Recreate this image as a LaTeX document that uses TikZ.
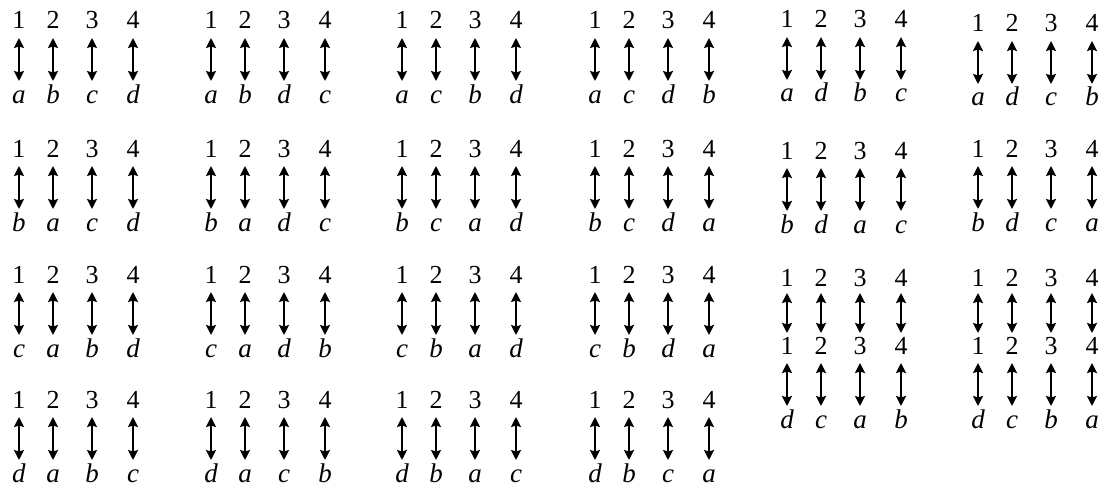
\documentclass[tikz,border=0pt]{standalone}
\usepackage{fontspec}
\setmainfont{Liberation Serif}
\newfontfamily\tms{Liberation Serif}
\usetikzlibrary{arrows.meta}
\tikzset{
  num/.style={inner sep=0pt, anchor=base, font=\tms\fontsize{26pt}{28pt}\selectfont},
  let/.style={inner sep=0pt, anchor=base, font=\tms\itshape\fontsize{27pt}{29pt}\selectfont},
  dbl/.style={line width=2.7pt, {Stealth[length=10pt,width=10pt,inset=1.5pt]}-{Stealth[length=10pt,width=10pt,inset=1.5pt]}}
}
\begin{document}
\begin{tikzpicture}[x=1pt,y=-1pt]
\useasboundingbox (0,0) rectangle (1101,487);
% full blocks: id / x / y(number centre) / letters
\foreach \id/\bx/\by/\la/\lb/\lc/\ld in {
  A/19/20/a/b/c/d, B/211/20/a/b/d/c, C/402/20/a/c/b/d, D/595/20/a/c/d/b, E/787/19/a/d/b/c, F/978/23/a/d/c/b,
  G/19/148/b/a/c/d, H/211/148/b/a/d/c, I/402/148/b/c/a/d, J/595/148/b/c/d/a, K/787/150/b/d/a/c, L/978/148/b/d/c/a,
  M/19/274/c/a/b/d, N/211/274/c/a/d/b, O/402/274/c/b/a/d, P/595/274/c/b/d/a,
  Q/19/399/d/a/b/c, R/211/399/d/a/c/b, S/402/399/d/b/a/c, T/595/399/d/b/c/a,
  U/787/345/d/c/a/b, V/978/345/d/c/b/a}{
  \foreach \k/\dx/\L in {1/0/\la, 2/34/\lb, 3/73/\lc, 4/114/\ld}{
    \node[num] (n\id\k) at (\bx+\dx,\by+9) {\k};
    \node[let] (l\id\k) at (\bx+\dx,\by+83) {\L};
    \coordinate (t\id\k) at (\bx+\dx,\by+18);
    \coordinate (b\id\k) at (\bx+\dx,\by+61);
    \draw[dbl] (t\id\k) -- (b\id\k);
  }
}
% blocks without letters (columns 5 and 6, third row)
\foreach \id/\bx/\by in {W/787/277, X/978/277}{
  \foreach \k/\dx in {1/0, 2/34, 3/73, 4/114}{
    \node[num] (n\id\k) at (\bx+\dx,\by+9) {\k};
    \coordinate (t\id\k) at (\bx+\dx,\by+16);
    \coordinate (b\id\k) at (\bx+\dx,\by+56);
    \draw[dbl] (t\id\k) -- (b\id\k);
  }
}
\end{tikzpicture}
\end{document}
